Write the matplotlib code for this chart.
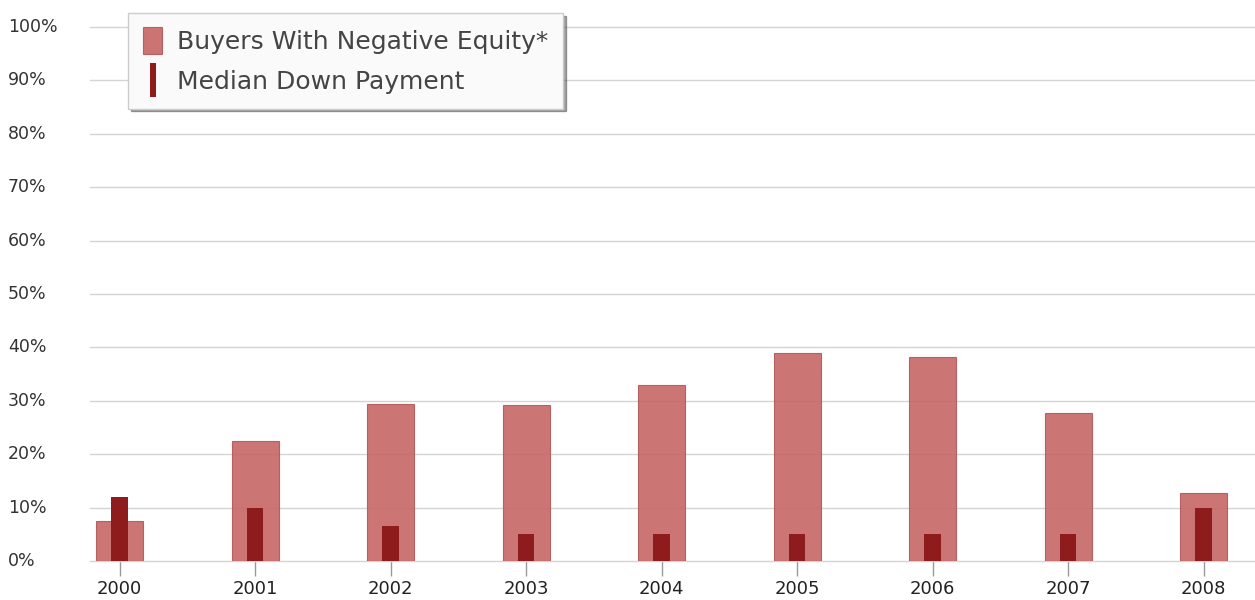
import numpy as np
import matplotlib.pyplot as plt
from matplotlib.patches import Rectangle
from matplotlib.legend_handler import HandlerPatch

years = ['2000', '2001', '2002', '2003', '2004', '2005', '2006', '2007', '2008']
negative_equity = [7.5, 22.5, 29.4, 29.2, 33.0, 39.0, 38.2, 27.7, 12.7]
down_payment = [12, 10, 6.5, 5, 5, 5, 5, 5, 10]
yticks = [0, 10, 20, 30, 40, 50, 60, 70, 80, 90, 100]
series_names = ['Buyers With Negative Equity*', 'Median Down Payment']

wide_color = '#c76666'
narrow_color = '#8e1c1c'

fig = plt.figure(figsize=(12.55, 6), dpi=100)
ax = fig.add_axes([90/1255, 1-561/600, 1-90/1255, (561-27)/600])

x = np.arange(len(years))
wide = ax.bar(x, negative_equity, width=0.347, color=wide_color, alpha=0.9,
              edgecolor='#b05858', linewidth=0.8, zorder=2)
narrow = ax.bar(x, down_payment, width=0.122, color=narrow_color, zorder=3)

ax.set_xlim(-0.218, 8.38)
ax.set_ylim(0, 100)
ax.set_yticks(yticks)
ax.set_yticklabels([f'{v}%' for v in yticks])
ax.set_xticks(x)
ax.set_xticklabels(years)

ax.grid(axis='y', color='#d4d4d4', linewidth=1, zorder=0)
ax.set_axisbelow(True)
for line in ax.get_ygridlines():
    line.set_clip_on(False)
for s in ax.spines.values():
    s.set_visible(False)

ax.tick_params(axis='y', length=0, pad=59, labelsize=12.5, labelcolor='#333333')
for lab in ax.get_yticklabels():
    lab.set_horizontalalignment('left')
    lab.set_verticalalignment('center')
ax.tick_params(axis='x', length=11, width=1, color='#9a9a9a', pad=3,
               labelsize=13, labelcolor='#222222')


# legend swatches: full block for the wide bars, thin stick for the narrow ones
def wide_patch(legend, orig_handle, xdescent, ydescent, width, height, fontsize):
    return Rectangle((-xdescent, -ydescent - 1), width, height + 2)


def narrow_patch(legend, orig_handle, xdescent, ydescent, width, height, fontsize):
    return Rectangle((-xdescent + width * 0.36, -ydescent - 3), width * 0.3, height + 6)


leg = ax.legend([wide[0], narrow[0]], series_names,
                loc='upper left', bbox_to_anchor=(38/1165, 1 + 14/534),
                borderaxespad=0,
                handler_map={wide[0]: HandlerPatch(patch_func=wide_patch),
                             narrow[0]: HandlerPatch(patch_func=narrow_patch)},
                fontsize=18, frameon=True, fancybox=False, shadow=True,
                handlelength=0.76, handleheight=1.15, handletextpad=0.6,
                borderpad=0.6, labelspacing=0.55, labelcolor='#444444')
leg.get_frame().set_facecolor('#fafafa')
leg.get_frame().set_edgecolor('#cccccc')
leg.get_frame().set_alpha(1)

fig.savefig('out.png', dpi=100)
